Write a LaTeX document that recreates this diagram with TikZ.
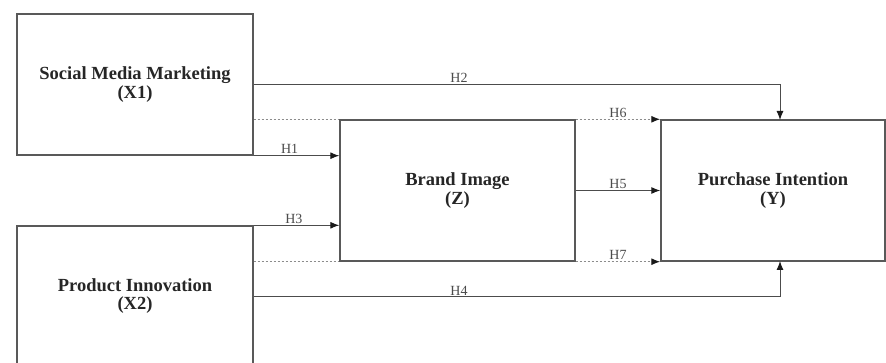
\documentclass[tikz,border=0pt]{standalone}
\usepackage{fontspec}
\setmainfont{Liberation Serif}
\usetikzlibrary{arrows.meta,calc}
\begin{document}
\begin{tikzpicture}[x=1pt,y=-1pt,
  box/.style={draw=black!65,line width=1.4pt,rectangle,inner sep=0pt,
    align=center,font=\fontsize{18.5}{18.5}\selectfont\bfseries,text=black!85},
  conn/.style={draw=black!70,line width=1pt},
  arr/.style={conn,-{Latex[length=9pt,width=7pt,color=black!90]}},
  dsh/.style={draw=black!45,line width=1.2pt,dash pattern=on 2pt off 2pt},
  dsharr/.style={dsh,-{Latex[length=9pt,width=7pt,color=black!90]}},
  hl/.style={font=\fontsize{14}{14}\selectfont,text=black!70,inner sep=1.5pt}]
\useasboundingbox (0,0) rectangle (886,363);
\fill[white] (0,0) rectangle (886,363);
\node[box,minimum width=236pt,minimum height=141pt] (x1) at (135,84.5) {Social Media Marketing\\(X1)};
\node[box,minimum width=236pt,minimum height=140pt] (x2) at (135,296) {Product Innovation\\(X2)};
\node[box,minimum width=235pt,minimum height=141pt] (z) at (457.5,190.5) {Brand Image\\(Z)};
\node[box,minimum width=224pt,minimum height=141pt] (y) at (773,190.5) {Purchase Intention\\(Y)};
\coordinate (ytop) at (780,120);
\coordinate (ybot) at (780,261);
% H2
\draw[arr] (x1.east) -| node[hl,pos=0.195,above] (h2) {H2} (ytop);
% H1
\draw[arr] (x1.south east) -- node[hl,above,pos=0.42] (h1) {H1} (x1.south east -| z.west);
% H3
\draw[arr] (x2.north east) -- node[hl,above,pos=0.47] (h3) {H3} (x2.north east -| z.west);
% dashed X1 -> Z top
\draw[dsh] (x1.east |- z.north west) -- (z.north west);
% H6
\draw[dsharr] (z.north east) -- node[hl,above] (h6) {H6} (y.north west);
% H5
\draw[arr] (z.east) -- node[hl,above] (h5) {H5} (y.west);
% dashed X2 -> Z bottom
\draw[dsh] (x2.east |- z.south west) -- (z.south west);
% H7
\draw[dsharr] (z.south east) -- node[hl,above] (h7) {H7} (y.south west);
% H4
\draw[arr] ($(x2.east)+(0,1)$) -| node[hl,pos=0.195,above] (h4) {H4} (ybot);
\end{tikzpicture}
\end{document}
